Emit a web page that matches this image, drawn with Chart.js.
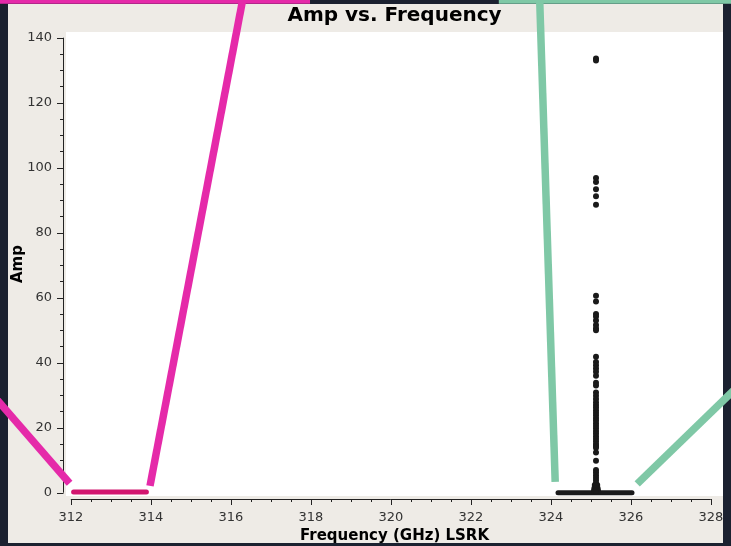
<!DOCTYPE html>
<html lang="en">
<head>
<meta charset="UTF-8">
<title>Amp vs. Frequency</title>
<style>
  body { margin: 0; background: #1b2130; }
  canvas { display: block; }
</style>
</head>
<body>
<canvas id="ampChart" width="731" height="546"></canvas>
<script src="https://cdn.jsdelivr.net/npm/chart.js"></script>
<script>
// spike channels (all at the same frequency)
const spikeFreq = 325.13;
const spikeAmps = [133.6, 133.0, 96.8, 95.6, 93.4, 91.2, 88.6, 60.6, 58.8, 55.0, 54.2, 53.0,
  51.6, 50.6, 50.0, 41.8, 40.2, 39.2, 38.2, 37.2, 36.0, 33.8, 33.0, 30.8, 29.8, 28.8, 27.8,
  27.0, 26.2, 25.4, 24.6, 23.8, 23.0, 22.2, 21.4, 20.6, 19.8, 19.0, 18.2, 17.4, 16.6, 15.8,
  15.0, 14.4, 13.8, 12.4, 9.8, 7.0, 6.2, 5.4, 4.6, 3.8, 3.0, 2.2, 1.4, 0.6];
// a few neighbours at the foot of the spike
const footFreqs = [325.08, 325.18, 325.09, 325.17, 325.10, 325.16];
const footAmps = [0.6, 0.6, 1.4, 1.4, 2.4, 2.4];
// flat channels near zero amplitude
const flatFreqs = [324.18, 326.03];
const flatAmps = [0, 0];
const spw0Freqs = [312.07, 313.89];
const spw0Amps = [0.2, 0.2];

const xTicks = [312, 314, 316, 318, 320, 322, 324, 326, 328];
const yTicks = [0, 20, 40, 60, 80, 100, 120, 140];

// zoom connector lines from the overview panel, in data units
const pinkTop = [[310.0, 151.6], [317.98, 151.6]];
const pinkLeft = [[310.1, 29.4], [311.97, 2.9]];
const pinkRight = [[316.31, 152.5], [313.98, 2.1]];
const greenTop = [[322.70, 151.6], [328.7, 151.6]];
const greenLeft = [[323.72, 152.5], [324.11, 3.3]];
const greenRight = [[328.63, 32.2], [326.16, 2.7]];

const pts = arr => arr.map(p => ({ x: p[0], y: p[1] }));
const pairs = (xs, ys) => xs.map((x, i) => ({ x, y: ys[i] }));

function connector(data, color) {
  return { data: pts(data), showLine: true, borderColor: color, borderWidth: 7.5,
    pointRadius: 0, clip: false, borderCapStyle: 'butt' };
}

const framePlugin = {
  id: 'frame',
  beforeDraw(chart) {
    const ctx = chart.ctx, a = chart.chartArea;
    ctx.save();
    ctx.fillStyle = '#1b2130';
    ctx.fillRect(0, 0, chart.width, chart.height);
    ctx.fillStyle = '#eeebe6';
    ctx.fillRect(8, 4, 715, 539);
    ctx.fillStyle = '#ffffff';
    ctx.fillRect(a.left, a.top, a.right - a.left, a.bottom - a.top);
    ctx.restore();
  },
  beforeDatasetsDraw(chart) {
    const ctx = chart.ctx, xs = chart.scales.x, ys = chart.scales.y;
    const ax = chart.chartArea.left - 3, ay = chart.chartArea.bottom + 3;
    ctx.save();
    ctx.strokeStyle = '#222';
    ctx.lineWidth = 1;
    ctx.beginPath();
    // axis lines span first to last major tick
    ctx.moveTo(ax + 0.5, ys.getPixelForValue(140));
    ctx.lineTo(ax + 0.5, ys.getPixelForValue(0));
    ctx.moveTo(xs.getPixelForValue(312), ay + 0.5);
    ctx.lineTo(xs.getPixelForValue(328), ay + 0.5);
    for (let v = 0; v <= 140; v += 5) {
      const y = Math.round(ys.getPixelForValue(v)) + 0.5;
      const len = v % 20 === 0 ? 6 : 3;
      ctx.moveTo(ax - len, y);
      ctx.lineTo(ax + 0.5, y);
    }
    for (let v = 312; v <= 328; v += 0.5) {
      const x = Math.round(xs.getPixelForValue(v)) + 0.5;
      const len = v % 2 === 0 ? 6 : 3;
      ctx.moveTo(x, ay);
      ctx.lineTo(x, ay + len);
    }
    ctx.stroke();
    ctx.restore();
  }
};

new Chart(document.getElementById('ampChart'), {
  type: 'scatter',
  data: {
    datasets: [
      connector(pinkTop, '#e52aa9'),
      connector(pinkLeft, '#e52aa9'),
      connector(pinkRight, '#e52aa9'),
      connector(greenTop, '#7fc8a6'),
      connector(greenLeft, '#7fc8a6'),
      connector(greenRight, '#7fc8a6'),
      { data: spikeAmps.map(a => ({ x: spikeFreq, y: a })), pointRadius: 3,
        backgroundColor: '#1a1a1a', borderWidth: 0 },
      { data: pairs(footFreqs, footAmps), pointRadius: 3,
        backgroundColor: '#1a1a1a', borderWidth: 0 },
      { data: pairs(flatFreqs, flatAmps), showLine: true, borderColor: '#1a1a1a',
        borderWidth: 5, borderCapStyle: 'round', pointRadius: 0 },
      { data: pairs(spw0Freqs, spw0Amps), showLine: true, borderColor: '#d2166f',
        borderWidth: 5, borderCapStyle: 'round', pointRadius: 0 }
    ]
  },
  options: {
    responsive: false,
    animation: false,
    events: [],
    layout: { padding: { left: 0, top: 0, right: 8, bottom: 0 } },
    plugins: {
      legend: { display: false },
      tooltip: { enabled: false },
      title: {
        display: true, text: 'Amp vs. Frequency', color: '#000', fullSize: false,
        font: { family: 'DejaVu Sans', size: 20, weight: 'bold', lineHeight: 1.2 },
        padding: { top: 4, bottom: 4 }
      }
    },
    scales: {
      x: {
        type: 'linear', min: 311.88, max: 328.305,
        afterFit: s => { s.height = 50; },
        afterBuildTicks: s => { s.ticks = xTicks.map(v => ({ value: v })); },
        grid: { display: true, drawOnChartArea: false, drawTicks: true, tickLength: 8,
          color: 'transparent', tickColor: 'transparent' },
        border: { display: false },
        ticks: { padding: 6, color: '#333', maxRotation: 0,
          font: { family: 'DejaVu Sans', size: 13 } },
        title: { display: true, text: 'Frequency (GHz) LSRK', color: '#000',
          font: { family: 'DejaVu Sans', size: 15, weight: 'bold', lineHeight: 1.2 },
          padding: { top: 0, bottom: 1 } }
      },
      y: {
        type: 'linear', min: -1.015, max: 141.75,
        afterFit: s => { s.width = 66; },
        afterBuildTicks: s => { s.ticks = yTicks.map(v => ({ value: v })); },
        grid: { display: true, drawOnChartArea: false, drawTicks: true, tickLength: 8,
          color: 'transparent', tickColor: 'transparent' },
        border: { display: false },
        ticks: { padding: 6, color: '#333',
          font: { family: 'DejaVu Sans', size: 13 } },
        title: { display: true, text: 'Amp', color: '#000',
          font: { family: 'DejaVu Sans', size: 15, weight: 'bold', lineHeight: 1.2 },
          padding: { top: 9, bottom: 0 } }
      }
    }
  },
  plugins: [framePlugin]
});
</script>
</body>
</html>
